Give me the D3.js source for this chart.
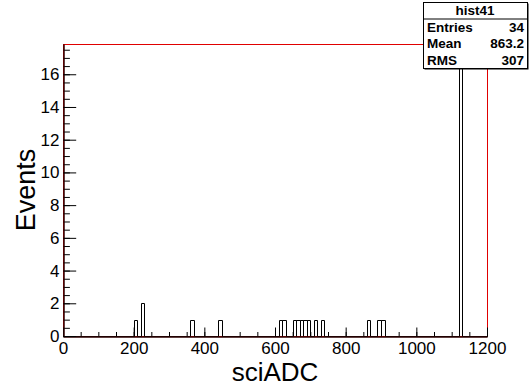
<!DOCTYPE html>
<html>
<head>
<meta charset="utf-8">
<script src="https://cdn.jsdelivr.net/npm/d3@7"></script>
<style>
  body { margin: 0; background: #fff; }
  svg { display: block; font-family: "Liberation Sans", Arial, sans-serif; }
</style>
</head>
<body>
<svg id="chart" width="529" height="387"></svg>
<script>
// histogram hist41: bin low edges (width 10) and their contents
var binWidth = 10;
var binLow  = [200, 220, 360, 440, 610, 620, 650, 660, 670, 680, 690, 710, 730, 860, 890, 900, 1120];
var binCont = [1,   2,   1,   1,   1,   1,   1,   1,   1,   1,   1,   1,   1,   1,   1,   1,   17];

var xMajor = [0, 200, 400, 600, 800, 1000, 1200];
var yMajor = [0, 2, 4, 6, 8, 10, 12, 14, 16];

var statNames  = ["Entries", "Mean", "RMS"];
var statValues = ["34", "863.2", "307"];

var frame = {left: 63, right: 487, top: 44, bottom: 336};

var svg = d3.select("#chart");

var x = d3.scaleLinear().domain([0, 1200]).range([frame.left, frame.right]);
var y = d3.scaleLinear().domain([0, 17.85]).range([frame.bottom, frame.top]);

// frame (red, like the ROOT canvas here)
svg.append("rect")
    .attr("x", frame.left + 0.5)
    .attr("y", frame.top + 0.5)
    .attr("width", frame.right - frame.left)
    .attr("height", frame.bottom - frame.top)
    .attr("fill", "none")
    .attr("stroke", "#e00000")
    .attr("stroke-width", 1);

// histogram outline as a step line
var pts = [[0, 0]];
for (var i = 0; i < binLow.length; i++) {
    pts.push([binLow[i], 0]);
    pts.push([binLow[i], binCont[i]]);
    pts.push([binLow[i] + binWidth, binCont[i]]);
    pts.push([binLow[i] + binWidth, 0]);
}
pts.push([1200, 0]);

var line = d3.line()
    .x(function(d) { return Math.round(x(d[0])) + 0.5; })
    .y(function(d) { return Math.round(y(d[1])) + 0.5; });

svg.append("path")
    .datum(pts)
    .attr("d", line)
    .attr("fill", "none")
    .attr("stroke", "#000")
    .attr("stroke-width", 1);

// x axis: ticks point up into the frame
var xMinorAxis = d3.axisBottom(x)
    .tickValues(d3.range(0, 1201, 50))
    .tickSize(-4.5)
    .tickSizeOuter(0)
    .tickFormat("");
var xMajorAxis = d3.axisBottom(x)
    .tickValues(xMajor)
    .tickSize(-9)
    .tickSizeOuter(0)
    .tickPadding(3)
    .tickFormat(d3.format("d"));

var gx1 = svg.append("g").attr("transform", "translate(0," + (frame.bottom + 0.5) + ")").call(xMinorAxis);
var gx2 = svg.append("g").attr("transform", "translate(0," + (frame.bottom + 0.5) + ")").call(xMajorAxis);

// y axis: ticks point right into the frame
var yMinorAxis = d3.axisLeft(y)
    .tickValues(d3.range(0, 17.6, 0.5))
    .tickSize(-6.4)
    .tickSizeOuter(0)
    .tickFormat("");
var yMajorAxis = d3.axisLeft(y)
    .tickValues(yMajor)
    .tickSize(-12.7)
    .tickSizeOuter(0)
    .tickPadding(4)
    .tickFormat(d3.format("d"));

var gy1 = svg.append("g").attr("transform", "translate(" + (frame.left + 0.5) + ",0)").call(yMinorAxis);
var gy2 = svg.append("g").attr("transform", "translate(" + (frame.left + 0.5) + ",0)").call(yMajorAxis);

svg.selectAll(".domain").attr("stroke", "#2a0000");
svg.selectAll(".tick line").attr("stroke", "#000");
svg.selectAll(".tick text")
    .attr("font-family", "Liberation Sans, Arial, sans-serif")
    .attr("font-size", 17)
    .attr("fill", "#000");
gx2.selectAll(".tick text").attr("dy", "0.85em");

// axis titles
svg.append("text")
    .attr("x", (frame.left + frame.right) / 2)
    .attr("y", 381)
    .attr("text-anchor", "middle")
    .attr("font-size", 26)
    .text("sciADC");

svg.append("text")
    .attr("transform", "translate(35," + ((frame.top + frame.bottom) / 2) + ") rotate(-90)")
    .attr("text-anchor", "middle")
    .attr("font-size", 27)
    .text("Events");

// stats box
var box = {x: 423, y: 2, w: 104, h: 66};
svg.append("rect")
    .attr("x", box.x + 1.5).attr("y", box.y + 1.5)
    .attr("width", box.w).attr("height", box.h)
    .attr("fill", "#000");
svg.append("rect")
    .attr("x", box.x + 0.5).attr("y", box.y + 0.5)
    .attr("width", box.w).attr("height", box.h)
    .attr("fill", "#fff")
    .attr("stroke", "#000");

var rowH = box.h / 4;
svg.append("line")
    .attr("x1", box.x).attr("x2", box.x + box.w)
    .attr("y1", box.y + rowH + 0.5).attr("y2", box.y + rowH + 0.5)
    .attr("stroke", "#000");

svg.append("text")
    .attr("x", box.x + box.w / 2)
    .attr("y", box.y + rowH / 2 + 5)
    .attr("text-anchor", "middle")
    .attr("font-size", 13.5)
    .attr("font-weight", "bold")
    .text("hist41");

statNames.forEach(function(n, i) {
    var cy = box.y + rowH * (i + 1.5) + 5;
    svg.append("text")
        .attr("x", box.x + 4)
        .attr("y", cy)
        .attr("font-size", 13.5)
        .attr("font-weight", "bold")
        .text(n);
    svg.append("text")
        .attr("x", box.x + box.w - 3)
        .attr("y", cy)
        .attr("text-anchor", "end")
        .attr("font-size", 13.5)
        .attr("font-weight", "bold")
        .text(statValues[i]);
});
</script>
</body>
</html>
